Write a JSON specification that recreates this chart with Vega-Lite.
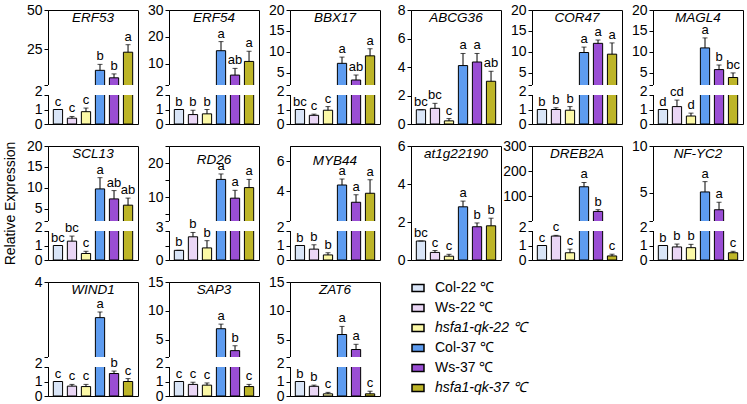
{
"$schema":"https://vega.github.io/schema/vega-lite/v6.json",
"padding":{"left":2,"top":2,"right":0,"bottom":0},
"data":{"values":[
{"g":"ERF53","c":"Col-22 ℃","v":1,"h":1,"l":"c"},{"g":"ERF53","c":"Ws-22 ℃","v":0.4,"h":0.52,"l":"c"},{"g":"ERF53","c":"hsfa1-qk-22 ℃","v":0.85,"h":1.1,"l":"c"},{"g":"ERF53","c":"Col-37 ℃","v":11.4,"h":15.2,"l":"b"},{"g":"ERF53","c":"Ws-37 ℃","v":6.6,"h":9.1,"l":"b"},{"g":"ERF53","c":"hsfa1-qk-37 ℃","v":23,"h":27.8,"l":"a"},
{"g":"ERF54","c":"Col-22 ℃","v":1,"h":1,"l":"b"},{"g":"ERF54","c":"Ws-22 ℃","v":0.65,"h":0.95,"l":"b"},{"g":"ERF54","c":"hsfa1-qk-22 ℃","v":0.7,"h":1.0,"l":"b"},{"g":"ERF54","c":"Col-37 ℃","v":14.8,"h":18.2,"l":"a"},{"g":"ERF54","c":"Ws-37 ℃","v":5.7,"h":8.2,"l":"ab"},{"g":"ERF54","c":"hsfa1-qk-37 ℃","v":10.8,"h":14.6,"l":"a"},
{"g":"BBX17","c":"Col-22 ℃","v":1,"h":1,"l":"bc"},{"g":"BBX17","c":"Ws-22 ℃","v":0.6,"h":0.68,"l":"c"},{"g":"BBX17","c":"hsfa1-qk-22 ℃","v":0.95,"h":1.2,"l":"c"},{"g":"BBX17","c":"Col-37 ℃","v":7.2,"h":8.7,"l":"a"},{"g":"BBX17","c":"Ws-37 ℃","v":3.2,"h":4.4,"l":"ab"},{"g":"BBX17","c":"hsfa1-qk-37 ℃","v":9,"h":10.7,"l":"a"},
{"g":"ABCG36","c":"Col-22 ℃","v":1,"h":1,"l":"bc"},{"g":"ABCG36","c":"Ws-22 ℃","v":1.1,"h":1.45,"l":"bc"},{"g":"ABCG36","c":"hsfa1-qk-22 ℃","v":0.22,"h":0.38,"l":"c"},{"g":"ABCG36","c":"Col-37 ℃","v":4.1,"h":4.95,"l":"a"},{"g":"ABCG36","c":"Ws-37 ℃","v":4.35,"h":4.95,"l":"a"},{"g":"ABCG36","c":"hsfa1-qk-37 ℃","v":3,"h":3.7,"l":"ab"},
{"g":"COR47","c":"Col-22 ℃","v":1,"h":1,"l":"b"},{"g":"COR47","c":"Ws-22 ℃","v":1,"h":1.12,"l":"b"},{"g":"COR47","c":"hsfa1-qk-22 ℃","v":0.95,"h":1.2,"l":"b"},{"g":"COR47","c":"Col-37 ℃","v":9.8,"h":11.1,"l":"a"},{"g":"COR47","c":"Ws-37 ℃","v":12,"h":12.8,"l":"a"},{"g":"COR47","c":"hsfa1-qk-37 ℃","v":9.4,"h":12.1,"l":"a"},
{"g":"MAGL4","c":"Col-22 ℃","v":1,"h":1,"l":"d"},{"g":"MAGL4","c":"Ws-22 ℃","v":1.2,"h":1.65,"l":"cd"},{"g":"MAGL4","c":"hsfa1-qk-22 ℃","v":0.55,"h":0.75,"l":"d"},{"g":"MAGL4","c":"Col-37 ℃","v":10.9,"h":13.3,"l":"a"},{"g":"MAGL4","c":"Ws-37 ℃","v":5.7,"h":6.8,"l":"b"},{"g":"MAGL4","c":"hsfa1-qk-37 ℃","v":3.8,"h":4.9,"l":"bc"},
{"g":"SCL13","c":"Col-22 ℃","v":1,"h":1,"l":"bc"},{"g":"SCL13","c":"Ws-22 ℃","v":1.3,"h":1.65,"l":"bc"},{"g":"SCL13","c":"hsfa1-qk-22 ℃","v":0.45,"h":0.6,"l":"c"},{"g":"SCL13","c":"Col-37 ℃","v":9.7,"h":12.4,"l":"a"},{"g":"SCL13","c":"Ws-37 ℃","v":7.3,"h":9.3,"l":"ab"},{"g":"SCL13","c":"hsfa1-qk-37 ℃","v":5.8,"h":7.5,"l":"ab"},
{"g":"RD26","c":"Col-22 ℃","v":1,"h":1,"l":"b"},{"g":"RD26","c":"Ws-22 ℃","v":2.4,"h":2.85,"l":"b"},{"g":"RD26","c":"hsfa1-qk-22 ℃","v":1.25,"h":2.0,"l":"b"},{"g":"RD26","c":"Col-37 ℃","v":15.2,"h":16.8,"l":"a"},{"g":"RD26","c":"Ws-37 ℃","v":9.7,"h":12,"l":"a"},{"g":"RD26","c":"hsfa1-qk-37 ℃","v":12.8,"h":15.2,"l":"a"},
{"g":"MYB44","c":"Col-22 ℃","v":1,"h":1,"l":"b"},{"g":"MYB44","c":"Ws-22 ℃","v":0.75,"h":1.05,"l":"b"},{"g":"MYB44","c":"hsfa1-qk-22 ℃","v":0.35,"h":0.5,"l":"b"},{"g":"MYB44","c":"Col-37 ℃","v":4.4,"h":4.8,"l":"a"},{"g":"MYB44","c":"Ws-37 ℃","v":3.25,"h":3.75,"l":"a"},{"g":"MYB44","c":"hsfa1-qk-37 ℃","v":3.85,"h":4.75,"l":"a"},
{"g":"at1g22190","c":"Col-22 ℃","v":1,"h":1,"l":"bc"},{"g":"at1g22190","c":"Ws-22 ℃","v":0.4,"h":0.5,"l":"c"},{"g":"at1g22190","c":"hsfa1-qk-22 ℃","v":0.2,"h":0.3,"l":"c"},{"g":"at1g22190","c":"Col-37 ℃","v":2.8,"h":3.1,"l":"a"},{"g":"at1g22190","c":"Ws-37 ℃","v":1.75,"h":1.95,"l":"b"},{"g":"at1g22190","c":"hsfa1-qk-37 ℃","v":1.8,"h":2.2,"l":"b"},
{"g":"DREB2A","c":"Col-22 ℃","v":1,"h":1,"l":"c"},{"g":"DREB2A","c":"Ws-22 ℃","v":1.65,"h":1.7,"l":"c"},{"g":"DREB2A","c":"hsfa1-qk-22 ℃","v":0.5,"h":0.75,"l":"c"},{"g":"DREB2A","c":"Col-37 ℃","v":138,"h":155,"l":"a"},{"g":"DREB2A","c":"Ws-37 ℃","v":40,"h":47,"l":"b"},{"g":"DREB2A","c":"hsfa1-qk-37 ℃","v":0.28,"h":0.4,"l":"c"},
{"g":"NF-YC2","c":"Col-22 ℃","v":1,"h":1,"l":"b"},{"g":"NF-YC2","c":"Ws-22 ℃","v":0.9,"h":1.1,"l":"b"},{"g":"NF-YC2","c":"hsfa1-qk-22 ℃","v":0.85,"h":1.08,"l":"b"},{"g":"NF-YC2","c":"Col-37 ℃","v":5.1,"h":6.2,"l":"a"},{"g":"NF-YC2","c":"Ws-37 ℃","v":3.2,"h":4,"l":"a"},{"g":"NF-YC2","c":"hsfa1-qk-37 ℃","v":0.5,"h":0.6,"l":"c"},
{"g":"WIND1","c":"Col-22 ℃","v":1,"h":1,"l":"c"},{"g":"WIND1","c":"Ws-22 ℃","v":0.68,"h":0.8,"l":"c"},{"g":"WIND1","c":"hsfa1-qk-22 ℃","v":0.65,"h":0.8,"l":"c"},{"g":"WIND1","c":"Col-37 ℃","v":3.05,"h":3.2,"l":"a"},{"g":"WIND1","c":"Ws-37 ℃","v":1.55,"h":1.72,"l":"b"},{"g":"WIND1","c":"hsfa1-qk-37 ℃","v":1,"h":1.2,"l":"c"},
{"g":"SAP3","c":"Col-22 ℃","v":1,"h":1,"l":"c"},{"g":"SAP3","c":"Ws-22 ℃","v":0.8,"h":0.95,"l":"c"},{"g":"SAP3","c":"hsfa1-qk-22 ℃","v":0.75,"h":0.9,"l":"c"},{"g":"SAP3","c":"Col-37 ℃","v":6.9,"h":7.7,"l":"a"},{"g":"SAP3","c":"Ws-37 ℃","v":3.1,"h":3.95,"l":"b"},{"g":"SAP3","c":"hsfa1-qk-37 ℃","v":0.65,"h":0.8,"l":"c"},
{"g":"ZAT6","c":"Col-22 ℃","v":1,"h":1,"l":"b"},{"g":"ZAT6","c":"Ws-22 ℃","v":0.67,"h":0.75,"l":"b"},{"g":"ZAT6","c":"hsfa1-qk-22 ℃","v":0.15,"h":0.25,"l":"c"},{"g":"ZAT6","c":"Col-37 ℃","v":5.9,"h":7.3,"l":"a"},{"g":"ZAT6","c":"Ws-37 ℃","v":3.3,"h":4.2,"l":"a"},{"g":"ZAT6","c":"hsfa1-qk-37 ℃","v":0.15,"h":0.33,"l":"c"}
]},
"bounds":"flush",
"columns":6,
"spacing":{"row":22,"column":31},
"concat":[
{"title":"ERF53","transform":[{"filter":"datum.g=='ERF53'"}],
"encoding":{"y":{"field":"v","type":"quantitative","scale":{"domain":[0,2,2.0001,50],"range":[114,85,75,0],"nice":false,"zero":false},"axis":{"title":null,"values":[0,1,2,2.0001,25,50],"labelExpr":"datum.value % 1 > 0 && datum.value % 1 < 0.01 ? '' : datum.label","labelBaseline":{"condition":{"test":"datum.value == 2","value":"alphabetic"},"value":"middle"}}}},
"layer":[
{"mark":{"type":"bar","stroke":"black","strokeWidth":1},"encoding":{"x":{"field":"c","type":"nominal","sort":null,"axis":null},"color":{"field":"c","type":"nominal","sort":null,"scale":{"domain":["Col-22 ℃","Ws-22 ℃","hsfa1-qk-22 ℃","Col-37 ℃","Ws-37 ℃","hsfa1-qk-37 ℃"],"range":["#d9e5f7","#ead6f5","#fbf8a6","#5e9cf0","#9a4ed4","#bdb528"]},"legend":{"title":null,"encode":{"labels":{"update":{"fontStyle":{"signal":"indexof(datum.label,'hsfa')>=0 ? 'italic' : 'normal'"}}}}}}}},
{"mark":{"type":"rect","color":"white"},"encoding":{"y":{"datum":2},"y2":{"datum":2.0001}}},
{"mark":{"type":"rule","color":"black"},"encoding":{"x":{"field":"c","type":"nominal","sort":null,"axis":null},"y2":{"field":"h"}}},
{"mark":{"type":"tick","color":"black","size":5,"thickness":1},"encoding":{"x":{"field":"c","type":"nominal","sort":null,"axis":null},"y":{"field":"h","type":"quantitative"}}},
{"mark":{"type":"text","dy":-4,"baseline":"alphabetic","fontSize":13},"encoding":{"x":{"field":"c","type":"nominal","sort":null,"axis":null},"y":{"field":"h","type":"quantitative"},"text":{"field":"l"}}}
]},
{"title":"ERF54","transform":[{"filter":"datum.g=='ERF54'"}],
"encoding":{"y":{"field":"v","type":"quantitative","scale":{"domain":[0,2,2.0001,30],"range":[114,85,75,0],"nice":false,"zero":false},"axis":{"title":null,"values":[0,1,2,2.0001,10,20,30],"labelExpr":"datum.value % 1 > 0 && datum.value % 1 < 0.01 ? '' : datum.label","labelBaseline":{"condition":{"test":"datum.value == 2","value":"alphabetic"},"value":"middle"}}}},
"layer":[
{"mark":{"type":"bar","stroke":"black","strokeWidth":1},"encoding":{"x":{"field":"c","type":"nominal","sort":null,"axis":null},"color":{"field":"c","type":"nominal","sort":null,"scale":{"domain":["Col-22 ℃","Ws-22 ℃","hsfa1-qk-22 ℃","Col-37 ℃","Ws-37 ℃","hsfa1-qk-37 ℃"],"range":["#d9e5f7","#ead6f5","#fbf8a6","#5e9cf0","#9a4ed4","#bdb528"]},"legend":{"title":null,"encode":{"labels":{"update":{"fontStyle":{"signal":"indexof(datum.label,'hsfa')>=0 ? 'italic' : 'normal'"}}}}}}}},
{"mark":{"type":"rect","color":"white"},"encoding":{"y":{"datum":2},"y2":{"datum":2.0001}}},
{"mark":{"type":"rule","color":"black"},"encoding":{"x":{"field":"c","type":"nominal","sort":null,"axis":null},"y2":{"field":"h"}}},
{"mark":{"type":"tick","color":"black","size":5,"thickness":1},"encoding":{"x":{"field":"c","type":"nominal","sort":null,"axis":null},"y":{"field":"h","type":"quantitative"}}},
{"mark":{"type":"text","dy":-4,"baseline":"alphabetic","fontSize":13},"encoding":{"x":{"field":"c","type":"nominal","sort":null,"axis":null},"y":{"field":"h","type":"quantitative"},"text":{"field":"l"}}}
]},
{"title":"BBX17","transform":[{"filter":"datum.g=='BBX17'"}],
"encoding":{"y":{"field":"v","type":"quantitative","scale":{"domain":[0,2,2.0001,20],"range":[114,85,75,0],"nice":false,"zero":false},"axis":{"title":null,"values":[0,1,2,2.0001,5,10,15,20],"labelExpr":"datum.value % 1 > 0 && datum.value % 1 < 0.01 ? '' : datum.label","labelBaseline":{"condition":{"test":"datum.value == 2","value":"alphabetic"},"value":"middle"}}}},
"layer":[
{"mark":{"type":"bar","stroke":"black","strokeWidth":1},"encoding":{"x":{"field":"c","type":"nominal","sort":null,"axis":null},"color":{"field":"c","type":"nominal","sort":null,"scale":{"domain":["Col-22 ℃","Ws-22 ℃","hsfa1-qk-22 ℃","Col-37 ℃","Ws-37 ℃","hsfa1-qk-37 ℃"],"range":["#d9e5f7","#ead6f5","#fbf8a6","#5e9cf0","#9a4ed4","#bdb528"]},"legend":{"title":null,"encode":{"labels":{"update":{"fontStyle":{"signal":"indexof(datum.label,'hsfa')>=0 ? 'italic' : 'normal'"}}}}}}}},
{"mark":{"type":"rect","color":"white"},"encoding":{"y":{"datum":2},"y2":{"datum":2.0001}}},
{"mark":{"type":"rule","color":"black"},"encoding":{"x":{"field":"c","type":"nominal","sort":null,"axis":null},"y2":{"field":"h"}}},
{"mark":{"type":"tick","color":"black","size":5,"thickness":1},"encoding":{"x":{"field":"c","type":"nominal","sort":null,"axis":null},"y":{"field":"h","type":"quantitative"}}},
{"mark":{"type":"text","dy":-4,"baseline":"alphabetic","fontSize":13},"encoding":{"x":{"field":"c","type":"nominal","sort":null,"axis":null},"y":{"field":"h","type":"quantitative"},"text":{"field":"l"}}}
]},
{"title":"ABCG36","transform":[{"filter":"datum.g=='ABCG36'"}],
"encoding":{"y":{"field":"v","type":"quantitative","scale":{"domain":[0,8],"range":[114,0],"nice":false,"zero":false},"axis":{"title":null,"values":[0,2,4,6,8]}}},
"layer":[
{"mark":{"type":"bar","stroke":"black","strokeWidth":1},"encoding":{"x":{"field":"c","type":"nominal","sort":null,"axis":null},"color":{"field":"c","type":"nominal","sort":null,"scale":{"domain":["Col-22 ℃","Ws-22 ℃","hsfa1-qk-22 ℃","Col-37 ℃","Ws-37 ℃","hsfa1-qk-37 ℃"],"range":["#d9e5f7","#ead6f5","#fbf8a6","#5e9cf0","#9a4ed4","#bdb528"]},"legend":{"title":null,"encode":{"labels":{"update":{"fontStyle":{"signal":"indexof(datum.label,'hsfa')>=0 ? 'italic' : 'normal'"}}}}}}}},
{"mark":{"type":"rule","color":"black"},"encoding":{"x":{"field":"c","type":"nominal","sort":null,"axis":null},"y2":{"field":"h"}}},
{"mark":{"type":"tick","color":"black","size":5,"thickness":1},"encoding":{"x":{"field":"c","type":"nominal","sort":null,"axis":null},"y":{"field":"h","type":"quantitative"}}},
{"mark":{"type":"text","dy":-4,"baseline":"alphabetic","fontSize":13},"encoding":{"x":{"field":"c","type":"nominal","sort":null,"axis":null},"y":{"field":"h","type":"quantitative"},"text":{"field":"l"}}}
]},
{"title":"COR47","transform":[{"filter":"datum.g=='COR47'"}],
"encoding":{"y":{"field":"v","type":"quantitative","scale":{"domain":[0,2,2.0001,20],"range":[114,85,75,0],"nice":false,"zero":false},"axis":{"title":null,"values":[0,1,2,2.0001,5,10,15,20],"labelExpr":"datum.value % 1 > 0 && datum.value % 1 < 0.01 ? '' : datum.label","labelBaseline":{"condition":{"test":"datum.value == 2","value":"alphabetic"},"value":"middle"}}}},
"layer":[
{"mark":{"type":"bar","stroke":"black","strokeWidth":1},"encoding":{"x":{"field":"c","type":"nominal","sort":null,"axis":null},"color":{"field":"c","type":"nominal","sort":null,"scale":{"domain":["Col-22 ℃","Ws-22 ℃","hsfa1-qk-22 ℃","Col-37 ℃","Ws-37 ℃","hsfa1-qk-37 ℃"],"range":["#d9e5f7","#ead6f5","#fbf8a6","#5e9cf0","#9a4ed4","#bdb528"]},"legend":{"title":null,"encode":{"labels":{"update":{"fontStyle":{"signal":"indexof(datum.label,'hsfa')>=0 ? 'italic' : 'normal'"}}}}}}}},
{"mark":{"type":"rect","color":"white"},"encoding":{"y":{"datum":2},"y2":{"datum":2.0001}}},
{"mark":{"type":"rule","color":"black"},"encoding":{"x":{"field":"c","type":"nominal","sort":null,"axis":null},"y2":{"field":"h"}}},
{"mark":{"type":"tick","color":"black","size":5,"thickness":1},"encoding":{"x":{"field":"c","type":"nominal","sort":null,"axis":null},"y":{"field":"h","type":"quantitative"}}},
{"mark":{"type":"text","dy":-4,"baseline":"alphabetic","fontSize":13},"encoding":{"x":{"field":"c","type":"nominal","sort":null,"axis":null},"y":{"field":"h","type":"quantitative"},"text":{"field":"l"}}}
]},
{"title":"MAGL4","transform":[{"filter":"datum.g=='MAGL4'"}],
"encoding":{"y":{"field":"v","type":"quantitative","scale":{"domain":[0,2,2.0001,20],"range":[114,85,75,0],"nice":false,"zero":false},"axis":{"title":null,"values":[0,1,2,2.0001,5,10,15,20],"labelExpr":"datum.value % 1 > 0 && datum.value % 1 < 0.01 ? '' : datum.label","labelBaseline":{"condition":{"test":"datum.value == 2","value":"alphabetic"},"value":"middle"}}}},
"layer":[
{"mark":{"type":"bar","stroke":"black","strokeWidth":1},"encoding":{"x":{"field":"c","type":"nominal","sort":null,"axis":null},"color":{"field":"c","type":"nominal","sort":null,"scale":{"domain":["Col-22 ℃","Ws-22 ℃","hsfa1-qk-22 ℃","Col-37 ℃","Ws-37 ℃","hsfa1-qk-37 ℃"],"range":["#d9e5f7","#ead6f5","#fbf8a6","#5e9cf0","#9a4ed4","#bdb528"]},"legend":{"title":null,"encode":{"labels":{"update":{"fontStyle":{"signal":"indexof(datum.label,'hsfa')>=0 ? 'italic' : 'normal'"}}}}}}}},
{"mark":{"type":"rect","color":"white"},"encoding":{"y":{"datum":2},"y2":{"datum":2.0001}}},
{"mark":{"type":"rule","color":"black"},"encoding":{"x":{"field":"c","type":"nominal","sort":null,"axis":null},"y2":{"field":"h"}}},
{"mark":{"type":"tick","color":"black","size":5,"thickness":1},"encoding":{"x":{"field":"c","type":"nominal","sort":null,"axis":null},"y":{"field":"h","type":"quantitative"}}},
{"mark":{"type":"text","dy":-4,"baseline":"alphabetic","fontSize":13},"encoding":{"x":{"field":"c","type":"nominal","sort":null,"axis":null},"y":{"field":"h","type":"quantitative"},"text":{"field":"l"}}}
]},
{"title":"SCL13","transform":[{"filter":"datum.g=='SCL13'"}],
"encoding":{"y":{"field":"v","type":"quantitative","scale":{"domain":[0,2,2.0001,20],"range":[114,85,75,0],"nice":false,"zero":false},"axis":{"title":"Relative Expression","values":[0,1,2,2.0001,5,10,15,20],"labelExpr":"datum.value % 1 > 0 && datum.value % 1 < 0.01 ? '' : datum.label","labelBaseline":{"condition":{"test":"datum.value == 2","value":"alphabetic"},"value":"middle"}}}},
"layer":[
{"mark":{"type":"bar","stroke":"black","strokeWidth":1},"encoding":{"x":{"field":"c","type":"nominal","sort":null,"axis":null},"color":{"field":"c","type":"nominal","sort":null,"scale":{"domain":["Col-22 ℃","Ws-22 ℃","hsfa1-qk-22 ℃","Col-37 ℃","Ws-37 ℃","hsfa1-qk-37 ℃"],"range":["#d9e5f7","#ead6f5","#fbf8a6","#5e9cf0","#9a4ed4","#bdb528"]},"legend":{"title":null,"encode":{"labels":{"update":{"fontStyle":{"signal":"indexof(datum.label,'hsfa')>=0 ? 'italic' : 'normal'"}}}}}}}},
{"mark":{"type":"rect","color":"white"},"encoding":{"y":{"datum":2},"y2":{"datum":2.0001}}},
{"mark":{"type":"rule","color":"black"},"encoding":{"x":{"field":"c","type":"nominal","sort":null,"axis":null},"y2":{"field":"h"}}},
{"mark":{"type":"tick","color":"black","size":5,"thickness":1},"encoding":{"x":{"field":"c","type":"nominal","sort":null,"axis":null},"y":{"field":"h","type":"quantitative"}}},
{"mark":{"type":"text","dy":-4,"baseline":"alphabetic","fontSize":13},"encoding":{"x":{"field":"c","type":"nominal","sort":null,"axis":null},"y":{"field":"h","type":"quantitative"},"text":{"field":"l"}}}
]},
{"title":"RD26","transform":[{"filter":"datum.g=='RD26'"}],
"encoding":{"y":{"field":"v","type":"quantitative","scale":{"domain":[0,3,3.0001,25],"range":[114,85,75,0],"nice":false,"zero":false},"axis":{"title":null,"values":[0,1.5,3,3.0001,5,10,15,20,25],"labelExpr":"datum.value % 1 > 0 && datum.value % 1 < 0.01 ? '' : datum.label","labelBaseline":{"condition":{"test":"datum.value == 3","value":"alphabetic"},"value":"middle"}}}},
"layer":[
{"mark":{"type":"bar","stroke":"black","strokeWidth":1},"encoding":{"x":{"field":"c","type":"nominal","sort":null,"axis":null},"color":{"field":"c","type":"nominal","sort":null,"scale":{"domain":["Col-22 ℃","Ws-22 ℃","hsfa1-qk-22 ℃","Col-37 ℃","Ws-37 ℃","hsfa1-qk-37 ℃"],"range":["#d9e5f7","#ead6f5","#fbf8a6","#5e9cf0","#9a4ed4","#bdb528"]},"legend":{"title":null,"encode":{"labels":{"update":{"fontStyle":{"signal":"indexof(datum.label,'hsfa')>=0 ? 'italic' : 'normal'"}}}}}}}},
{"mark":{"type":"rect","color":"white"},"encoding":{"y":{"datum":3},"y2":{"datum":3.0001}}},
{"mark":{"type":"rule","color":"black"},"encoding":{"x":{"field":"c","type":"nominal","sort":null,"axis":null},"y2":{"field":"h"}}},
{"mark":{"type":"tick","color":"black","size":5,"thickness":1},"encoding":{"x":{"field":"c","type":"nominal","sort":null,"axis":null},"y":{"field":"h","type":"quantitative"}}},
{"mark":{"type":"text","dy":-4,"baseline":"alphabetic","fontSize":13},"encoding":{"x":{"field":"c","type":"nominal","sort":null,"axis":null},"y":{"field":"h","type":"quantitative"},"text":{"field":"l"}}}
]},
{"title":"MYB44","transform":[{"filter":"datum.g=='MYB44'"}],
"encoding":{"y":{"field":"v","type":"quantitative","scale":{"domain":[0,2,2.0001,7],"range":[114,85,75,0],"nice":false,"zero":false},"axis":{"title":null,"values":[0,1,2,2.0001,4,6],"labelExpr":"datum.value % 1 > 0 && datum.value % 1 < 0.01 ? '' : datum.label","labelBaseline":{"condition":{"test":"datum.value == 2","value":"alphabetic"},"value":"middle"}}}},
"layer":[
{"mark":{"type":"bar","stroke":"black","strokeWidth":1},"encoding":{"x":{"field":"c","type":"nominal","sort":null,"axis":null},"color":{"field":"c","type":"nominal","sort":null,"scale":{"domain":["Col-22 ℃","Ws-22 ℃","hsfa1-qk-22 ℃","Col-37 ℃","Ws-37 ℃","hsfa1-qk-37 ℃"],"range":["#d9e5f7","#ead6f5","#fbf8a6","#5e9cf0","#9a4ed4","#bdb528"]},"legend":{"title":null,"encode":{"labels":{"update":{"fontStyle":{"signal":"indexof(datum.label,'hsfa')>=0 ? 'italic' : 'normal'"}}}}}}}},
{"mark":{"type":"rect","color":"white"},"encoding":{"y":{"datum":2},"y2":{"datum":2.0001}}},
{"mark":{"type":"rule","color":"black"},"encoding":{"x":{"field":"c","type":"nominal","sort":null,"axis":null},"y2":{"field":"h"}}},
{"mark":{"type":"tick","color":"black","size":5,"thickness":1},"encoding":{"x":{"field":"c","type":"nominal","sort":null,"axis":null},"y":{"field":"h","type":"quantitative"}}},
{"mark":{"type":"text","dy":-4,"baseline":"alphabetic","fontSize":13},"encoding":{"x":{"field":"c","type":"nominal","sort":null,"axis":null},"y":{"field":"h","type":"quantitative"},"text":{"field":"l"}}}
]},
{"title":"at1g22190","transform":[{"filter":"datum.g=='at1g22190'"}],
"encoding":{"y":{"field":"v","type":"quantitative","scale":{"domain":[0,6],"range":[114,0],"nice":false,"zero":false},"axis":{"title":null,"values":[0,2,4,6]}}},
"layer":[
{"mark":{"type":"bar","stroke":"black","strokeWidth":1},"encoding":{"x":{"field":"c","type":"nominal","sort":null,"axis":null},"color":{"field":"c","type":"nominal","sort":null,"scale":{"domain":["Col-22 ℃","Ws-22 ℃","hsfa1-qk-22 ℃","Col-37 ℃","Ws-37 ℃","hsfa1-qk-37 ℃"],"range":["#d9e5f7","#ead6f5","#fbf8a6","#5e9cf0","#9a4ed4","#bdb528"]},"legend":{"title":null,"encode":{"labels":{"update":{"fontStyle":{"signal":"indexof(datum.label,'hsfa')>=0 ? 'italic' : 'normal'"}}}}}}}},
{"mark":{"type":"rule","color":"black"},"encoding":{"x":{"field":"c","type":"nominal","sort":null,"axis":null},"y2":{"field":"h"}}},
{"mark":{"type":"tick","color":"black","size":5,"thickness":1},"encoding":{"x":{"field":"c","type":"nominal","sort":null,"axis":null},"y":{"field":"h","type":"quantitative"}}},
{"mark":{"type":"text","dy":-4,"baseline":"alphabetic","fontSize":13},"encoding":{"x":{"field":"c","type":"nominal","sort":null,"axis":null},"y":{"field":"h","type":"quantitative"},"text":{"field":"l"}}}
]},
{"title":"DREB2A","transform":[{"filter":"datum.g=='DREB2A'"}],
"encoding":{"y":{"field":"v","type":"quantitative","scale":{"domain":[0,2,2.0001,300],"range":[114,85,75,0],"nice":false,"zero":false},"axis":{"title":null,"values":[0,1,2,2.0001,100,200,300],"labelExpr":"datum.value % 1 > 0 && datum.value % 1 < 0.01 ? '' : datum.label","labelBaseline":{"condition":{"test":"datum.value == 2","value":"alphabetic"},"value":"middle"}}}},
"layer":[
{"mark":{"type":"bar","stroke":"black","strokeWidth":1},"encoding":{"x":{"field":"c","type":"nominal","sort":null,"axis":null},"color":{"field":"c","type":"nominal","sort":null,"scale":{"domain":["Col-22 ℃","Ws-22 ℃","hsfa1-qk-22 ℃","Col-37 ℃","Ws-37 ℃","hsfa1-qk-37 ℃"],"range":["#d9e5f7","#ead6f5","#fbf8a6","#5e9cf0","#9a4ed4","#bdb528"]},"legend":{"title":null,"encode":{"labels":{"update":{"fontStyle":{"signal":"indexof(datum.label,'hsfa')>=0 ? 'italic' : 'normal'"}}}}}}}},
{"mark":{"type":"rect","color":"white"},"encoding":{"y":{"datum":2},"y2":{"datum":2.0001}}},
{"mark":{"type":"rule","color":"black"},"encoding":{"x":{"field":"c","type":"nominal","sort":null,"axis":null},"y2":{"field":"h"}}},
{"mark":{"type":"tick","color":"black","size":5,"thickness":1},"encoding":{"x":{"field":"c","type":"nominal","sort":null,"axis":null},"y":{"field":"h","type":"quantitative"}}},
{"mark":{"type":"text","dy":-4,"baseline":"alphabetic","fontSize":13},"encoding":{"x":{"field":"c","type":"nominal","sort":null,"axis":null},"y":{"field":"h","type":"quantitative"},"text":{"field":"l"}}}
]},
{"title":"NF-YC2","transform":[{"filter":"datum.g=='NF-YC2'"}],
"encoding":{"y":{"field":"v","type":"quantitative","scale":{"domain":[0,2,2.0001,10],"range":[114,85,75,0],"nice":false,"zero":false},"axis":{"title":null,"values":[0,1,2,2.0001,5,10],"labelExpr":"datum.value % 1 > 0 && datum.value % 1 < 0.01 ? '' : datum.label","labelBaseline":{"condition":{"test":"datum.value == 2","value":"alphabetic"},"value":"middle"}}}},
"layer":[
{"mark":{"type":"bar","stroke":"black","strokeWidth":1},"encoding":{"x":{"field":"c","type":"nominal","sort":null,"axis":null},"color":{"field":"c","type":"nominal","sort":null,"scale":{"domain":["Col-22 ℃","Ws-22 ℃","hsfa1-qk-22 ℃","Col-37 ℃","Ws-37 ℃","hsfa1-qk-37 ℃"],"range":["#d9e5f7","#ead6f5","#fbf8a6","#5e9cf0","#9a4ed4","#bdb528"]},"legend":{"title":null,"encode":{"labels":{"update":{"fontStyle":{"signal":"indexof(datum.label,'hsfa')>=0 ? 'italic' : 'normal'"}}}}}}}},
{"mark":{"type":"rect","color":"white"},"encoding":{"y":{"datum":2},"y2":{"datum":2.0001}}},
{"mark":{"type":"rule","color":"black"},"encoding":{"x":{"field":"c","type":"nominal","sort":null,"axis":null},"y2":{"field":"h"}}},
{"mark":{"type":"tick","color":"black","size":5,"thickness":1},"encoding":{"x":{"field":"c","type":"nominal","sort":null,"axis":null},"y":{"field":"h","type":"quantitative"}}},
{"mark":{"type":"text","dy":-4,"baseline":"alphabetic","fontSize":13},"encoding":{"x":{"field":"c","type":"nominal","sort":null,"axis":null},"y":{"field":"h","type":"quantitative"},"text":{"field":"l"}}}
]},
{"title":"WIND1","transform":[{"filter":"datum.g=='WIND1'"}],
"encoding":{"y":{"field":"v","type":"quantitative","scale":{"domain":[0,2,2.0001,4],"range":[114,85,75,0],"nice":false,"zero":false},"axis":{"title":null,"values":[0,1,2,2.0001,4],"labelExpr":"datum.value % 1 > 0 && datum.value % 1 < 0.01 ? '' : datum.label","labelBaseline":{"condition":{"test":"datum.value == 2","value":"alphabetic"},"value":"middle"}}}},
"layer":[
{"mark":{"type":"bar","stroke":"black","strokeWidth":1},"encoding":{"x":{"field":"c","type":"nominal","sort":null,"axis":null},"color":{"field":"c","type":"nominal","sort":null,"scale":{"domain":["Col-22 ℃","Ws-22 ℃","hsfa1-qk-22 ℃","Col-37 ℃","Ws-37 ℃","hsfa1-qk-37 ℃"],"range":["#d9e5f7","#ead6f5","#fbf8a6","#5e9cf0","#9a4ed4","#bdb528"]},"legend":{"title":null,"encode":{"labels":{"update":{"fontStyle":{"signal":"indexof(datum.label,'hsfa')>=0 ? 'italic' : 'normal'"}}}}}}}},
{"mark":{"type":"rect","color":"white"},"encoding":{"y":{"datum":2},"y2":{"datum":2.0001}}},
{"mark":{"type":"rule","color":"black"},"encoding":{"x":{"field":"c","type":"nominal","sort":null,"axis":null},"y2":{"field":"h"}}},
{"mark":{"type":"tick","color":"black","size":5,"thickness":1},"encoding":{"x":{"field":"c","type":"nominal","sort":null,"axis":null},"y":{"field":"h","type":"quantitative"}}},
{"mark":{"type":"text","dy":-4,"baseline":"alphabetic","fontSize":13},"encoding":{"x":{"field":"c","type":"nominal","sort":null,"axis":null},"y":{"field":"h","type":"quantitative"},"text":{"field":"l"}}}
]},
{"title":"SAP3","transform":[{"filter":"datum.g=='SAP3'"}],
"encoding":{"y":{"field":"v","type":"quantitative","scale":{"domain":[0,2,2.0001,15],"range":[114,85,75,0],"nice":false,"zero":false},"axis":{"title":null,"values":[0,1,2,2.0001,5,10,15],"labelExpr":"datum.value % 1 > 0 && datum.value % 1 < 0.01 ? '' : datum.label","labelBaseline":{"condition":{"test":"datum.value == 2","value":"alphabetic"},"value":"middle"}}}},
"layer":[
{"mark":{"type":"bar","stroke":"black","strokeWidth":1},"encoding":{"x":{"field":"c","type":"nominal","sort":null,"axis":null},"color":{"field":"c","type":"nominal","sort":null,"scale":{"domain":["Col-22 ℃","Ws-22 ℃","hsfa1-qk-22 ℃","Col-37 ℃","Ws-37 ℃","hsfa1-qk-37 ℃"],"range":["#d9e5f7","#ead6f5","#fbf8a6","#5e9cf0","#9a4ed4","#bdb528"]},"legend":{"title":null,"encode":{"labels":{"update":{"fontStyle":{"signal":"indexof(datum.label,'hsfa')>=0 ? 'italic' : 'normal'"}}}}}}}},
{"mark":{"type":"rect","color":"white"},"encoding":{"y":{"datum":2},"y2":{"datum":2.0001}}},
{"mark":{"type":"rule","color":"black"},"encoding":{"x":{"field":"c","type":"nominal","sort":null,"axis":null},"y2":{"field":"h"}}},
{"mark":{"type":"tick","color":"black","size":5,"thickness":1},"encoding":{"x":{"field":"c","type":"nominal","sort":null,"axis":null},"y":{"field":"h","type":"quantitative"}}},
{"mark":{"type":"text","dy":-4,"baseline":"alphabetic","fontSize":13},"encoding":{"x":{"field":"c","type":"nominal","sort":null,"axis":null},"y":{"field":"h","type":"quantitative"},"text":{"field":"l"}}}
]},
{"title":"ZAT6","transform":[{"filter":"datum.g=='ZAT6'"}],
"encoding":{"y":{"field":"v","type":"quantitative","scale":{"domain":[0,2,2.0001,15],"range":[114,85,75,0],"nice":false,"zero":false},"axis":{"title":null,"values":[0,1,2,2.0001,5,10,15],"labelExpr":"datum.value % 1 > 0 && datum.value % 1 < 0.01 ? '' : datum.label","labelBaseline":{"condition":{"test":"datum.value == 2","value":"alphabetic"},"value":"middle"}}}},
"layer":[
{"mark":{"type":"bar","stroke":"black","strokeWidth":1},"encoding":{"x":{"field":"c","type":"nominal","sort":null,"axis":null},"color":{"field":"c","type":"nominal","sort":null,"scale":{"domain":["Col-22 ℃","Ws-22 ℃","hsfa1-qk-22 ℃","Col-37 ℃","Ws-37 ℃","hsfa1-qk-37 ℃"],"range":["#d9e5f7","#ead6f5","#fbf8a6","#5e9cf0","#9a4ed4","#bdb528"]},"legend":{"title":null,"encode":{"labels":{"update":{"fontStyle":{"signal":"indexof(datum.label,'hsfa')>=0 ? 'italic' : 'normal'"}}}}}}}},
{"mark":{"type":"rect","color":"white"},"encoding":{"y":{"datum":2},"y2":{"datum":2.0001}}},
{"mark":{"type":"rule","color":"black"},"encoding":{"x":{"field":"c","type":"nominal","sort":null,"axis":null},"y2":{"field":"h"}}},
{"mark":{"type":"tick","color":"black","size":5,"thickness":1},"encoding":{"x":{"field":"c","type":"nominal","sort":null,"axis":null},"y":{"field":"h","type":"quantitative"}}},
{"mark":{"type":"text","dy":-4,"baseline":"alphabetic","fontSize":13},"encoding":{"x":{"field":"c","type":"nominal","sort":null,"axis":null},"y":{"field":"h","type":"quantitative"},"text":{"field":"l"}}}
]}
],
"config":{
"font":"Liberation Sans",
"view":{"stroke":"black","strokeWidth":1,"discreteWidth":90,"continuousHeight":114,"discreteHeight":114,"continuousWidth":90},
"axis":{"domainColor":"black","tickColor":"black","labelColor":"black","labelFontSize":14,"tickSize":4,"labelPadding":2,"grid":false,"titleFontSize":14,"titleFontWeight":"normal","titleColor":"black","minExtent":24,"maxExtent":24,"titlePadding":7,"zindex":0},
"title":{"fontSize":13.5,"fontStyle":"italic","fontWeight":"normal","color":"black","offset":-21,"baseline":"top","anchor":"middle","frame":"group"},
"scale":{"bandPaddingInner":0.34,"bandPaddingOuter":0.38},
"text":{"color":"black"},
"legend":{"orient":"none","legendX":363,"legendY":271,"padding":0,"symbolType":"M-1,-0.6H1V0.6H-1Z","symbolSize":144,"symbolStrokeColor":"black","symbolStrokeWidth":1.5,"labelFontSize":14,"labelColor":"black","labelOffset":10,"rowPadding":6,"labelLimit":200}
}
}
